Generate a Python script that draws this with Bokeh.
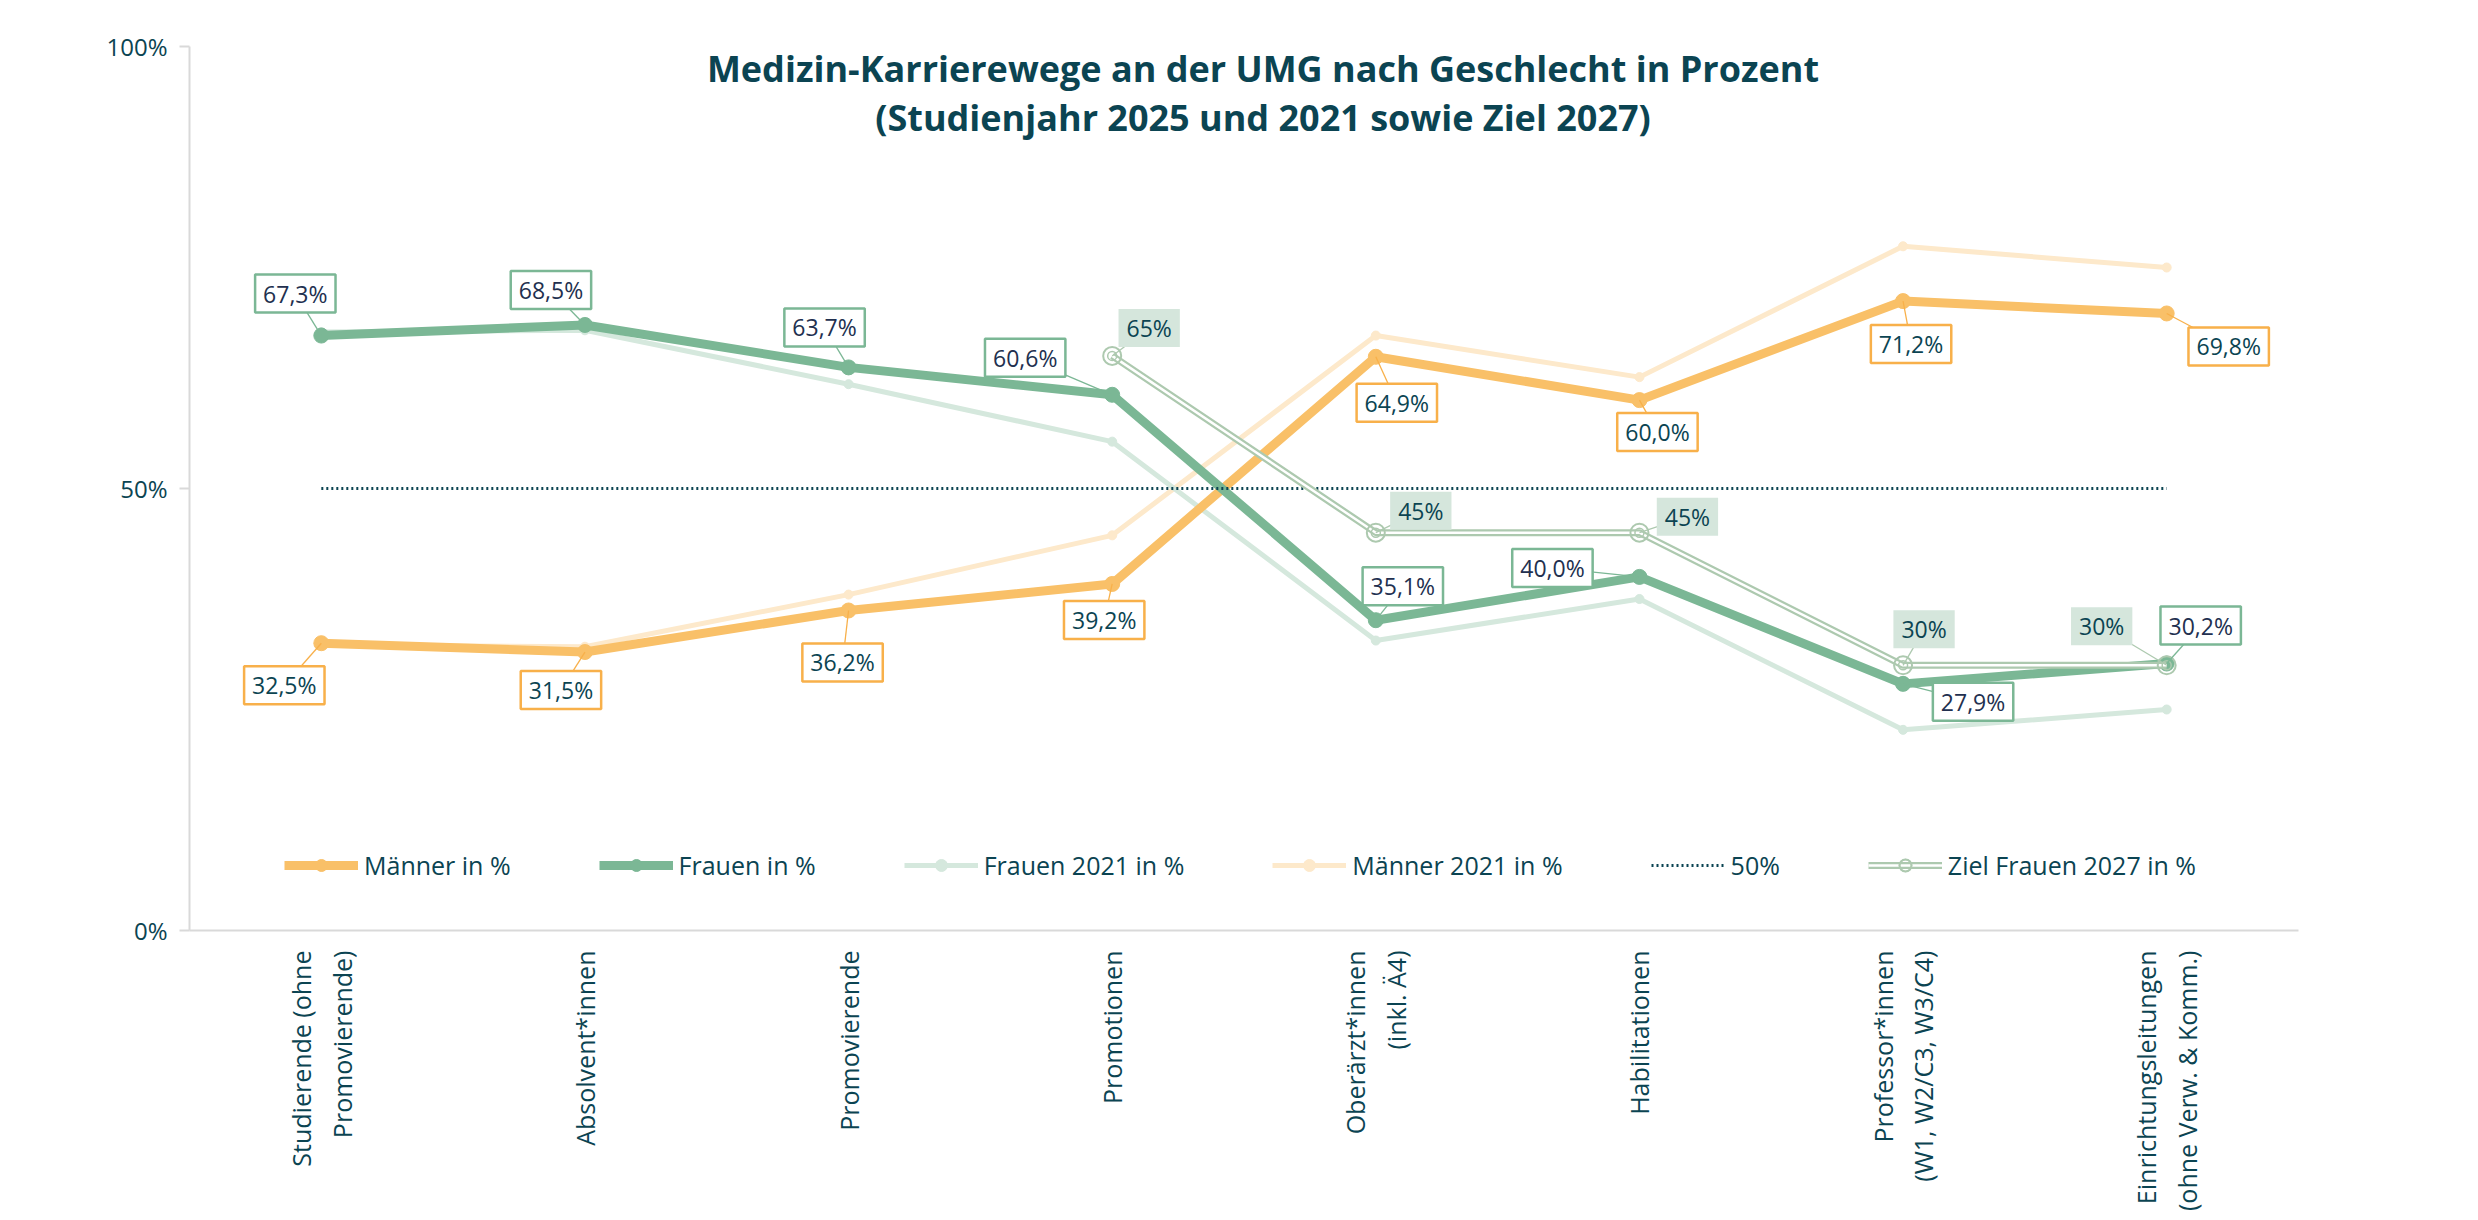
import math
from bokeh.plotting import figure
from bokeh.models import (FactorRange, Range1d, FixedTicker, ColumnDataSource,
                          Legend, LegendItem, Label)
from bokeh.core.properties import value
from bokeh.embed import file_html
from bokeh.resources import INLINE

# ---------------- data ----------------
categories = [
    "Studierende (ohne\nPromovierende)",
    "Absolvent*innen",
    "Promovierende",
    "Promotionen",
    "Oberärzt*innen\n(inkl. Ä4)",
    "Habilitationen",
    "Professor*innen\n(W1, W2/C3, W3/C4)",
    "Einrichtungsleitungen\n(ohne Verw. & Komm.)",
]
maenner = [32.5, 31.5, 36.2, 39.2, 64.9, 60.0, 71.2, 69.8]
frauen = [67.3, 68.5, 63.7, 60.6, 35.1, 40.0, 27.9, 30.2]
frauen_2021 = [67.7, 67.9, 61.8, 55.3, 32.8, 37.5, 22.7, 25.0]
maenner_2021 = [32.3, 32.1, 38.0, 44.7, 67.3, 62.6, 77.4, 75.0]
ziel_categories = categories[3:]
ziel_frauen_2027 = [65, 45, 45, 30, 30]
parity = [50] * len(categories)
y_ticks = [0, 50, 100]
y_tick_labels = ["0%", "50%", "100%"]

title_1 = "Medizin-Karrierewege an der UMG nach Geschlecht in Prozent"
title_2 = "(Studienjahr 2025 und 2021 sowie Ziel 2027)"

# ---------------- style ----------------
TEAL = "#0b4452"
NAVY = "#22304f"
C_MEN = "#F9C068"
C_MEN_BORDER = "#F8B04A"
C_WOMEN = "#7BB795"
C_WOMEN_21 = "#D5E8DD"
C_MEN_21 = "#FDE9CB"
C_ZIEL = "#ADC9AF"
C_ZIEL_FILL = "#D5E6DC"
C_AXIS = "#D9D9D9"
FONT = "Open Sans"

FRAME_W, FRAME_H = 2109, 884
PPX = FRAME_W / len(categories)   # px per category
PPY = FRAME_H / 100.0             # px per percent

# label offsets in px (dx right, dy down) relative to the data point
women_dx = [-26, -34, -24, -87, 27, -87, 70, 34]
women_dy = [-42, -35, -40, -37, -34, -9, 18, -38]
men_dx = [-37, -24, -6, -8, 21, 18, 8, 62]
men_dy = [42, 38, 52, 36, 46, 32, 43, 33]
ziel_dx = [37, 45, 48, 21, -65]
ziel_dy = [-28, -22, -16, -36, -39]

p = figure(
    x_range=FactorRange(*categories, range_padding=0),
    y_range=Range1d(0, 100),
    width=2470, height=1220,
    min_border_left=189, min_border_right=172,
    min_border_top=46, min_border_bottom=290,
    output_backend="svg", toolbar_location=None,
)
p.outline_line_color = None
p.xgrid.visible = False
p.ygrid.visible = False
p.background_fill_color = "white"

# axes
p.yaxis.ticker = FixedTicker(ticks=y_ticks)
p.yaxis.major_label_overrides = {t: l for t, l in zip(y_ticks, y_tick_labels)}
p.yaxis.axis_line_color = C_AXIS
p.yaxis.axis_line_width = 2
p.yaxis.major_tick_line_color = C_AXIS
p.yaxis.major_tick_line_width = 2
p.yaxis.major_tick_out = 10
p.yaxis.major_tick_in = 0
p.yaxis.minor_tick_line_color = None
p.yaxis.major_label_text_font = FONT
p.yaxis.major_label_text_font_size = "24px"
p.yaxis.major_label_text_color = TEAL
p.yaxis.major_label_standoff = 12

p.xaxis.axis_line_color = C_AXIS
p.xaxis.axis_line_width = 2
p.xaxis.major_tick_line_color = None
p.xaxis.major_tick_out = 0
p.xaxis.major_tick_in = 0
p.xaxis.major_label_orientation = math.pi / 2
p.xaxis.major_label_text_font = FONT
p.xaxis.major_label_text_font_size = "25px"
p.xaxis.major_label_text_color = TEAL
p.xaxis.major_label_standoff = 20

# series
r_m21 = p.line(categories, maenner_2021, line_color=C_MEN_21, line_width=5)
r_m21m = p.scatter(categories, maenner_2021, size=9, fill_color=C_MEN_21, line_color=C_MEN_21)
r_f21 = p.line(categories, frauen_2021, line_color=C_WOMEN_21, line_width=5)
r_f21m = p.scatter(categories, frauen_2021, size=9, fill_color=C_WOMEN_21, line_color=C_WOMEN_21)

r_m = p.line(categories, maenner, line_color=C_MEN, line_width=9)
r_mm = p.scatter(categories, maenner, size=15, fill_color=C_MEN, line_color=C_MEN)
r_f = p.line(categories, frauen, line_color=C_WOMEN, line_width=9)
r_fm = p.scatter(categories, frauen, size=15, fill_color=C_WOMEN, line_color=C_WOMEN)

r_50 = p.line(categories, parity, line_color=TEAL, line_width=3, line_dash="2 3")

r_z = p.line(ziel_categories, ziel_frauen_2027, line_color=C_ZIEL, line_width=7)
r_zw = p.line(ziel_categories, ziel_frauen_2027, line_color="white", line_width=2.5)
r_zm = p.scatter(ziel_categories, ziel_frauen_2027, size=18, fill_color=None,
                 line_color=C_ZIEL, line_width=2)
r_zm2 = p.scatter(ziel_categories, ziel_frauen_2027, size=9, fill_color=None,
                  line_color=C_ZIEL, line_width=1.5)


# data labels with leader lines
def add_labels(vals, idx, dxs, dys, texts, border, fill, tcolor):
    xs = [i + 0.5 for i in idx]
    lx = [x + dx / PPX for x, dx in zip(xs, dxs)]
    ly = [v - dy / PPY for v, dy in zip(vals, dys)]
    p.segment(x0=xs, y0=vals, x1=lx, y1=ly, line_color=border if border else C_ZIEL,
              line_width=1.3)
    src = ColumnDataSource(dict(x=lx, y=ly, t=texts))
    p.text(x="x", y="y", text="t", source=src, text_align="center",
           text_baseline="middle", text_font=value(FONT), text_font_size="23px",
           text_color=tcolor, background_fill_color=fill,
           border_line_color=border, border_line_width=2.5,
           padding=dict(left=8, right=8, top=3, bottom=3))


def fmt1(v):
    return f"{v:.1f}".replace(".", ",") + "%"


n = len(categories)
add_labels(frauen, range(n), women_dx, women_dy, [fmt1(v) for v in frauen],
           C_WOMEN, "white", NAVY)
add_labels(maenner, range(n), men_dx, men_dy, [fmt1(v) for v in maenner],
           C_MEN_BORDER, "white", TEAL)
zi = [categories.index(c) for c in ziel_categories]
add_labels(ziel_frauen_2027, zi, ziel_dx, ziel_dy, [f"{v:.0f}%" for v in ziel_frauen_2027],
           None, C_ZIEL_FILL, TEAL)

# title
for txt, yy in ((title_1, 100 - 22 / PPY), (title_2, 100 - 71 / PPY)):
    p.add_layout(Label(x=len(categories) / 2 + 19 / PPX, y=yy, text=txt,
                       text_align="center", text_baseline="middle",
                       text_font=FONT, text_font_style="bold",
                       text_font_size="36px", text_color=TEAL))

# legend
legend = Legend(
    items=[
        LegendItem(label="Männer in %", renderers=[r_m, r_mm]),
        LegendItem(label="Frauen in %", renderers=[r_f, r_fm]),
        LegendItem(label="Frauen 2021 in %", renderers=[r_f21, r_f21m]),
        LegendItem(label="Männer 2021 in %", renderers=[r_m21, r_m21m]),
        LegendItem(label="50%", renderers=[r_50]),
        LegendItem(label="Ziel Frauen 2027 in %", renderers=[r_z, r_zw, r_zm, r_zm2]),
    ],
    orientation="horizontal",
    location=(95, 48),
    glyph_width=74, glyph_height=30, label_height=30,
    label_standoff=6, spacing=88, padding=0, margin=0,
    border_line_color=None, background_fill_alpha=0,
    label_text_font=FONT, label_text_font_size="25px", label_text_color=TEAL,
)
p.add_layout(legend)

open("out.html", "w").write(file_html(p, INLINE))
